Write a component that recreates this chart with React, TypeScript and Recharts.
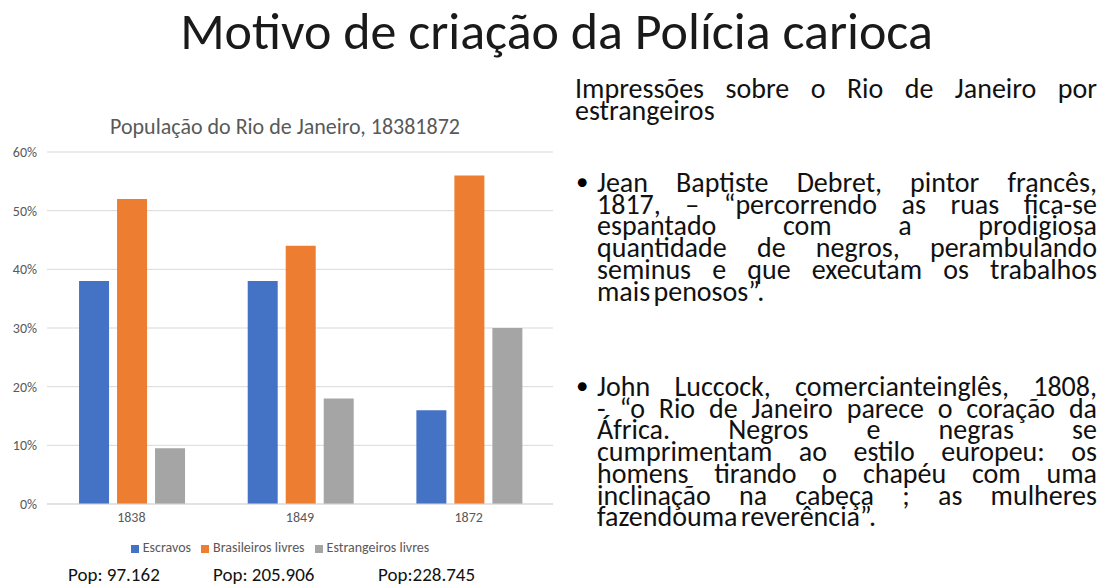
import React from 'react';
import { BarChart, Bar, XAxis, YAxis, CartesianGrid, Legend } from 'recharts';

const years = ['1838', '1849', '1872'];
const escravos = [0.38, 0.38, 0.16];
const brasileiros = [0.52, 0.44, 0.56];
const estrangeiros = [0.095, 0.18, 0.3];
const yTicks = [0, 0.1, 0.2, 0.3, 0.4, 0.5, 0.6];
const seriesNames = ['Escravos', 'Brasileiros livres', 'Estrangeiros livres'];
const popLabels = ['Pop: 97.162', 'Pop: 205.906', 'Pop:228.745'];

const headerLines = ['Impressões sobre o Rio de Janeiro por', 'estrangeiros'];
const bullet1 = [
  'Jean Baptiste Debret, pintor francês,',
  '1817, – “percorrendo as ruas fica-se',
  'espantado com a prodigiosa',
  'quantidade de negros, perambulando',
  'seminus e que executam os trabalhos',
  'mais penosos”.',
];
const bullet2 = [
  'John Luccock, comercianteinglês, 1808,',
  '- “o Rio de Janeiro parece o coração da',
  'África. Negros e negras se',
  'cumprimentam ao estilo europeu: os',
  'homens tirando o chapéu com uma',
  'inclinação na cabeça ; as mulheres',
  'fazendouma reverência”.',
];

const data = years.map((y, i) => ({
  year: y,
  escravos: escravos[i],
  brasileiros: brasileiros[i],
  estrangeiros: estrangeiros[i],
}));

const FONT = 'Carlito, Lato, "Open Sans", sans-serif';

const TextLines = ({ lines, top, left, width, size, lh }: any) => (
  <div
    style={{
      position: 'absolute',
      top,
      left,
      width,
      fontSize: size,
      lineHeight: lh + 'px',
      wordSpacing: -3,
      color: '#111',
    }}
  >
    {lines.map((l: string, i: number) => (
      <div
        key={i}
        style={{
          textAlign: 'justify',
          textAlignLast: i === lines.length - 1 ? 'left' : 'justify',
          whiteSpace: 'nowrap',
        }}
      >
        {l}
      </div>
    ))}
  </div>
);

export default function App() {
  return (
    <div
      style={{
        position: 'absolute',
        left: 0,
        top: 0,
        width: 1113,
        height: 586,
        background: '#fff',
        overflow: 'hidden',
        fontFamily: FONT,
      }}
    >
      <div
        style={{
          position: 'absolute',
          top: -1,
          left: 0,
          width: 1113,
          textAlign: 'center',
          fontSize: 52,
          color: '#1a1a1a',
        }}
      >
        Motivo de criação da Polícia carioca
      </div>

      <div
        style={{
          position: 'absolute',
          top: 113,
          left: 0,
          width: 570,
          textAlign: 'center',
          fontSize: 22,
          color: '#595959',
        }}
      >
        População do Rio de Janeiro, 18381872
      </div>

      <div style={{ position: 'absolute', top: 140, left: 0 }}>
        <BarChart
          width={560}
          height={425}
          data={data}
          margin={{ top: 12, right: 7, bottom: 31, left: 0 }}
          barCategoryGap="19%"
          barGap={8}
        >
          <CartesianGrid vertical={false} stroke="#d9d9d9" />
          <XAxis
            dataKey="year"
            tickLine={false}
            axisLine={{ stroke: '#d9d9d9' }}
            tick={{ fontSize: 14, fill: '#595959', fontFamily: FONT }}
          />
          <YAxis
            width={47}
            domain={[0, 0.6]}
            ticks={yTicks}
            tickFormatter={(v: number) => Math.round(v * 100) + '%'}
            axisLine={false}
            tickLine={false}
            tickMargin={4}
            tick={{ fontSize: 14, fill: '#595959', fontFamily: FONT }}
          />
          <Legend
            verticalAlign="middle"
            align="center"
            iconType="square"
            iconSize={8}
            itemSorter={(item: any) => seriesNames.indexOf(item.value)}
            wrapperStyle={{ top: 399, left: 0, width: 570, fontSize: 14, fontFamily: FONT }}
            formatter={(v: string) => <span style={{ color: '#595959' }}>{v}</span>}
          />
          <Bar dataKey="escravos" name={seriesNames[0]} fill="#4472C4" isAnimationActive={false} />
          <Bar dataKey="brasileiros" name={seriesNames[1]} fill="#ED7D31" isAnimationActive={false} />
          <Bar dataKey="estrangeiros" name={seriesNames[2]} fill="#A5A5A5" isAnimationActive={false} />
        </BarChart>
      </div>

      {popLabels.map((p, i) => (
        <div
          key={p}
          style={{
            position: 'absolute',
            top: 563,
            left: [68, 213, 378][i],
            fontSize: 19,
            lineHeight: '24px',
            color: '#111',
            whiteSpace: 'nowrap',
          }}
        >
          {p}
        </div>
      ))}

      <TextLines lines={headerLines} top={78} left={575} width={522} size={28} lh={22} />

      <div style={{ position: 'absolute', top: 171, left: 576, fontSize: 25, lineHeight: '22px' }}>•</div>
      <TextLines lines={bullet1} top={172} left={597} width={500} size={28} lh={21.7} />

      <div style={{ position: 'absolute', top: 375, left: 576, fontSize: 25, lineHeight: '22px' }}>•</div>
      <TextLines lines={bullet2} top={376} left={597} width={500} size={28} lh={21.7} />
    </div>
  );
}
